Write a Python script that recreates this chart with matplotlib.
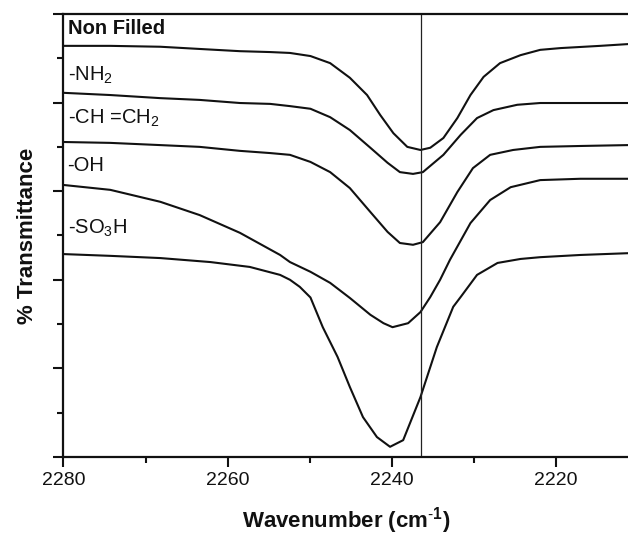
import numpy as np
import matplotlib
matplotlib.use("Agg")
import matplotlib.pyplot as plt
from matplotlib.ticker import MultipleLocator, NullFormatter

plt.rcParams["font.family"] = ["Liberation Sans", "DejaVu Sans"]
plt.rcParams["mathtext.fontset"] = "custom"
plt.rcParams["mathtext.rm"] = "Liberation Sans"
plt.rcParams["mathtext.bf"] = "Liberation Sans:bold"
plt.rcParams["mathtext.default"] = "regular"

# readings (wavenumber in cm-1, transmittance in arbitrary units)
wn_nonfilled = [2280.0, 2274.3, 2268.2, 2263.4, 2258.5, 2254.8, 2252.4, 2249.9, 2247.5,
                2245.1, 2243.0, 2241.4, 2239.8, 2238.1, 2236.5, 2235.3, 2233.7, 2232.0,
                2230.4, 2228.8, 2226.8, 2224.3, 2221.9, 2219.4, 2214.6, 2211.2]
t_nonfilled = [9.28, 9.28, 9.26, 9.21, 9.16, 9.14, 9.12, 9.05, 8.89,
               8.56, 8.17, 7.72, 7.31, 7.00, 6.93, 6.98, 7.20, 7.65,
               8.17, 8.58, 8.89, 9.07, 9.19, 9.23, 9.28, 9.32]

wn_nh2 = [2280.0, 2274.3, 2268.2, 2263.4, 2258.5, 2254.8, 2252.4, 2249.9, 2247.5,
          2245.1, 2242.6, 2240.5, 2239.0, 2237.4, 2236.2, 2233.7, 2231.6, 2229.6,
          2227.6, 2224.7, 2221.9, 2217.0, 2211.2]
t_nh2 = [8.22, 8.17, 8.10, 8.06, 7.99, 7.97, 7.92, 7.86, 7.67,
         7.38, 6.98, 6.64, 6.43, 6.39, 6.43, 6.82, 7.27, 7.65,
         7.83, 7.95, 7.99, 7.99, 7.99]

wn_vinyl = [2280.0, 2274.3, 2268.2, 2263.4, 2258.5, 2254.8, 2252.4, 2249.9, 2247.5,
            2245.1, 2242.6, 2240.5, 2239.0, 2237.4, 2236.2, 2234.1, 2232.0, 2230.1,
            2228.0, 2225.2, 2221.9, 2217.0, 2211.2]
t_vinyl = [7.11, 7.09, 7.04, 7.00, 6.91, 6.86, 6.82, 6.66, 6.43,
           6.07, 5.53, 5.08, 4.83, 4.79, 4.85, 5.30, 5.98, 6.52,
           6.82, 6.93, 7.00, 7.02, 7.04]

wn_oh = [2280.0, 2274.3, 2268.2, 2263.4, 2258.5, 2253.6, 2252.4, 2249.9, 2247.5,
         2245.1, 2242.6, 2241.0, 2239.9, 2238.0, 2236.5, 2235.3, 2234.1, 2232.9,
         2230.4, 2228.0, 2225.5, 2221.9, 2217.0, 2211.2]
t_oh = [6.14, 6.03, 5.76, 5.46, 5.06, 4.56, 4.40, 4.18, 3.93,
        3.59, 3.21, 3.02, 2.93, 3.02, 3.27, 3.61, 4.00, 4.45,
        5.28, 5.80, 6.09, 6.25, 6.28, 6.28]

wn_so3h = [2280.0, 2274.3, 2268.2, 2262.1, 2257.3, 2253.6, 2252.4, 2251.2, 2249.9,
           2248.4, 2246.6, 2245.1, 2243.5, 2241.8, 2240.2, 2238.6, 2236.5, 2234.5,
           2232.5, 2231.6, 2229.6, 2227.1, 2224.3, 2221.9, 2217.0, 2211.2]
t_so3h = [4.58, 4.54, 4.49, 4.40, 4.29, 4.11, 4.00, 3.84, 3.60,
          2.93, 2.26, 1.58, 0.90, 0.45, 0.23, 0.38, 1.35, 2.48,
          3.39, 3.61, 4.11, 4.38, 4.47, 4.51, 4.56, 4.60]

labels = ["Non Filled", "-NH$_2$", "-CH =CH$_2$", "-OH", "-SO$_3$H"]
label_y = [9.68, 8.62, 7.65, 6.57, 5.17]
marker_wn = 2236.4

curves = [(wn_nonfilled, t_nonfilled), (wn_nh2, t_nh2), (wn_vinyl, t_vinyl),
          (wn_oh, t_oh), (wn_so3h, t_so3h)]

fig = plt.figure(figsize=(6.28, 5.37), dpi=100)
ax = fig.add_axes([0.1011, 0.149, 0.8989, 0.825])

for i, (wn, t) in enumerate(curves):
    ax.plot(wn, t, color="#111111", linewidth=1.5, solid_joinstyle="round")
    ax.text(2279.5, label_y[i], labels[i], fontsize=14.5,
            fontweight="bold" if i == 0 else "normal",
            va="center", ha="left", color="#111111")

ax.axvline(marker_wn, color="#222222", linewidth=0.9)

ax.set_xlim(2280, 2211.2)
ax.set_ylim(0, 10)

ax.xaxis.set_major_locator(MultipleLocator(20))
ax.xaxis.set_minor_locator(MultipleLocator(10))
ax.yaxis.set_major_locator(MultipleLocator(2))
ax.yaxis.set_minor_locator(MultipleLocator(1))
ax.yaxis.set_major_formatter(NullFormatter())

ax.tick_params(axis="both", which="major", direction="out", length=7, width=1.5,
               labelsize=14, top=False, right=False, colors="#111111")
ax.tick_params(axis="both", which="minor", direction="out", length=4, width=1.5,
               top=False, right=False, colors="#111111")

for side in ["left", "bottom", "top"]:
    ax.spines[side].set_linewidth(1.6)
    ax.spines[side].set_color("#111111")
ax.spines["right"].set_visible(False)

ax.set_xlabel(r"Wavenumber (cm$^{\mathbf{\text{-}1}}$)", fontsize=16,
              fontweight="bold", labelpad=12, color="#111111")
ax.set_ylabel("% Transmittance", fontsize=16, fontweight="bold", labelpad=8,
              color="#111111")

plt.savefig("out.png", dpi=100)
